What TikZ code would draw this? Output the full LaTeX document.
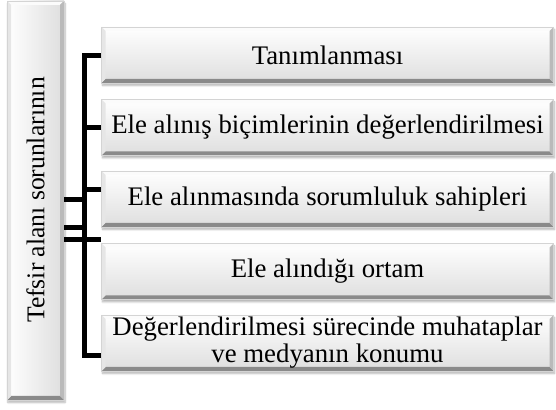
\documentclass[tikz,border=0pt]{standalone}
\usepackage{fontspec}
\setmainfont{Liberation Serif}
\usetikzlibrary{shadows.blur}
\definecolor{edgeT}{HTML}{FBFBFB}
\definecolor{edgeB}{HTML}{8A8A8A}
\definecolor{edgeL}{HTML}{E6E6E6}
\definecolor{edgeR}{HTML}{BABABA}
\definecolor{outl}{HTML}{D4D4D4}
\tikzset{
  bev/.style n args={4}{path picture={
    \coordinate (pSW) at (path picture bounding box.south west);
    \coordinate (pNE) at (path picture bounding box.north east);
    \coordinate (pNW) at (path picture bounding box.north west);
    \coordinate (pSE) at (path picture bounding box.south east);
    \fill[#1] (pNW) -- (pNE) -- ([shift={(-4pt,-4pt)}]pNE) -- ([shift={(4pt,-4pt)}]pNW) -- cycle;
    \fill[#2] (pSE) -- (pSW) -- ([shift={(4pt,4pt)}]pSW) -- ([shift={(-4pt,4pt)}]pSE) -- cycle;
    \fill[#3] (pNW) -- (pSW) -- ([shift={(4pt,4pt)}]pSW) -- ([shift={(4pt,-4pt)}]pNW) -- cycle;
    \fill[#4] (pNE) -- (pSE) -- ([shift={(-4pt,4pt)}]pSE) -- ([shift={(-4pt,-4pt)}]pNE) -- cycle;
  }},
  rbox/.style={draw=outl, line width=0.6pt, top color=white, bottom color=gray!26,
    minimum width=452pt, minimum height=56pt, inner sep=0pt, align=center,
    font=\fontsize{26.8}{27}\selectfont,
    bev={edgeT}{edgeB}{edgeL}{edgeR},
    blur shadow={shadow xshift=1pt, shadow yshift=-2.5pt, shadow blur steps=6, shadow opacity=30}},
  lbox/.style={draw=outl, line width=0.6pt, left color=white, right color=gray!26,
    minimum width=57pt, minimum height=399pt, inner sep=0pt,
    bev={edgeT}{edgeB}{edgeL}{edgeR},
    blur shadow={shadow xshift=1pt, shadow yshift=-2.5pt, shadow blur steps=6, shadow opacity=30}},
  ltext/.style={rotate=90, inner sep=0pt, font=\fontsize{25.6}{26}\selectfont},
  conn/.style={line width=5pt, black, line cap=butt, line join=miter}
}
\begin{document}
\begin{tikzpicture}[x=1pt,y=1pt]
\useasboundingbox (0,0) rectangle (556,409);
\node[lbox] (L) at (35.5,208.5) {};
\node[ltext] (Lt) at (35.5,209) {Tefsir alanı sorunlarının};
\node[rbox] (b1) at (327.5,354) {Tanımlanması};
\node[rbox] (b2) at (327.5,281.5) {Ele alınış biçimlerinin değerlendirilmesi};
\node[rbox] (b3) at (327.5,210) {Ele alınmasında sorumluluk sahipleri};
\node[rbox] (b4) at (327.5,137.5) {Ele alındığı ortam};
\node[rbox] (b5) at (327.5,66) {Değerlendirilmesi sürecinde muhataplar\\ve medyanın konumu};
\coordinate (tb) at (84.5,53.5);
\coordinate (tt) at (84.5,353.5);
% trunk with top and bottom branches
\draw[conn] ([yshift=-0.5pt]b1.west) -| (tb) -- ([yshift=-12.5pt]b5.west);
\draw[conn] (b2.west) -- (b2.west -| tt);
\draw[conn] ([yshift=9pt]b3.west) -- ([yshift=9pt]b3.west -| tt);
\draw[conn] ([yshift=-39.5pt]L.east) -- ([yshift=31.5pt]b4.west);
% connectors from the left box
\draw[conn] ([yshift=0.5pt]L.east) -- ([yshift=0.5pt]L.east -| tt);
\draw[conn] ([yshift=-27pt]L.east) -- ([yshift=-27pt]L.east -| tt);
\end{tikzpicture}
\end{document}
